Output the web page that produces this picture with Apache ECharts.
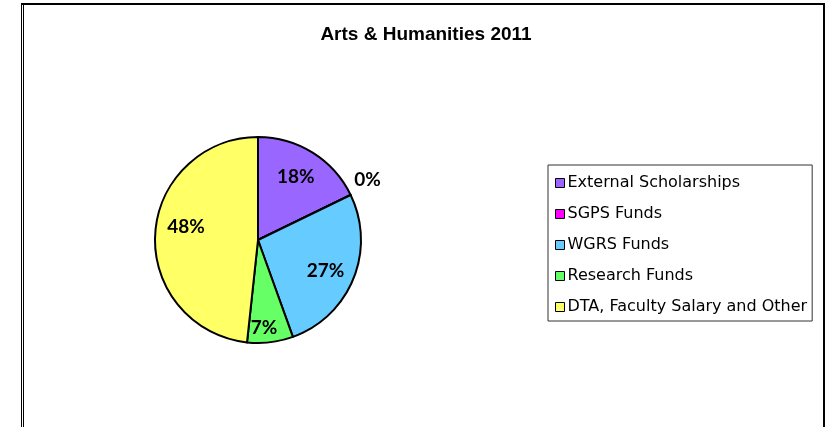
<!DOCTYPE html>
<html>
<head>
<meta charset="utf-8">
<script src="https://cdn.jsdelivr.net/npm/echarts@6/dist/echarts.min.js"></script>
<style>html,body{margin:0;padding:0;background:#fff}#c{width:836px;height:427px}</style>
</head>
<body>
<div id="c"></div>
<script>
const titleText = 'Arts & Humanities 2011';
const categories = ['External Scholarships', 'SGPS Funds', 'WGRS Funds', 'Research Funds', 'DTA, Faculty Salary and Other'];
const values = [17.8, 0, 26.7, 7.2, 48.3];
const colors = ['#9966FF', '#FF00FF', '#66CCFF', '#66FF66', '#FFFF66'];

const chart = echarts.init(document.getElementById('c'), null, {renderer: 'canvas'});
const center = [258, 240];
const R = 103;
const labelOffsets = {0: [-2, 1], 1: [42, -27], 2: [-2, 3], 3: [-3, 13], 4: [3, -9]};

const pieData = categories.map((name, i) => ({name, value: values[i], itemStyle: {color: colors[i]}}));
const labelData = categories.map((name, i) => ({
  name, value: values[i],
  label: labelOffsets[i] ? {offset: labelOffsets[i]} : {}
}));

chart.setOption({
  animation: false,
  title: {
    text: titleText, left: 421, top: 20, textAlign: 'center',
    textStyle: {fontFamily: 'Liberation Sans', fontWeight: 'bold', fontSize: 19, color: '#000'}
  },
  legend: {
    orient: 'vertical', left: 548, top: 165,
    data: categories,
    itemWidth: 9, itemHeight: 9, itemGap: 15,
    padding: [10, 5, 6, 7],
    borderColor: '#333', borderWidth: 1,
    icon: 'rect',
    itemStyle: {borderColor: '#000', borderWidth: 1},
    textStyle: {fontFamily: 'DejaVu Sans', fontSize: 16, color: '#000', lineHeight: 16, padding: [0, 0, 0, -2]},
    selectedMode: false
  },
  graphic: [
    {type: 'line', shape: {x1: 21, y1: 4, x2: 825, y2: 4}, style: {stroke: '#000', lineWidth: 2}},
    {type: 'line', shape: {x1: 21.5, y1: 3, x2: 21.5, y2: 427}, style: {stroke: '#000', lineWidth: 1}},
    {type: 'line', shape: {x1: 23.5, y1: 5, x2: 23.5, y2: 427}, style: {stroke: '#000', lineWidth: 1}},
    {type: 'line', shape: {x1: 824, y1: 3, x2: 824, y2: 427}, style: {stroke: '#000', lineWidth: 2}}
  ],
  series: [
    {
      type: 'pie', center: center, radius: [0, R],
      startAngle: 90, clockwise: true,
      data: pieData,
      label: {show: false}, labelLine: {show: false},
      itemStyle: {borderColor: '#000', borderWidth: 2},
      emphasis: {disabled: true},
      silent: true
    },
    {
      type: 'pie', center: center, radius: [R * 0.4, R],
      startAngle: 90, clockwise: true,
      data: labelData,
      z: 5,
      itemStyle: {color: 'rgba(0,0,0,0)', borderWidth: 0},
      label: {
        show: true, position: 'inside',
        fontFamily: 'Lato', fontWeight: 'bold', fontSize: 19, color: '#000',
        formatter: p => Math.round(p.percent) + '%'
      },
      labelLine: {show: false},
      emphasis: {disabled: true},
      silent: true,
      legendHoverLink: false
    }
  ]
});
</script>
</body>
</html>
